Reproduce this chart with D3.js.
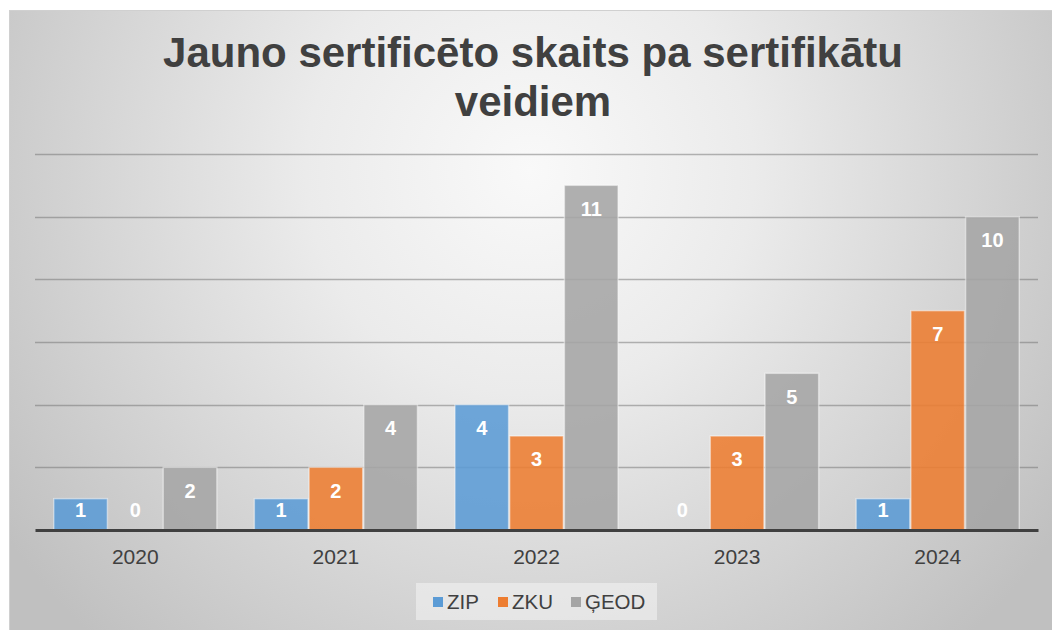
<!DOCTYPE html>
<html>
<head>
<meta charset="utf-8">
<script src="https://cdn.jsdelivr.net/npm/d3@7"></script>
<style>
  html, body { margin: 0; padding: 0; background: #fff; }
  svg { display: block; font-family: "Liberation Sans", Arial, sans-serif; }
</style>
</head>
<body>
<script>
// chart data
const years = ['2020', '2021', '2022', '2023', '2024'];
const seriesNames = ['ZIP', 'ZKU', 'ĢEOD'];
const zip = [1, 1, 4, 0, 1];
const zku = [0, 2, 3, 3, 7];
const geod = [2, 4, 11, 5, 10];
const yTicks = [0, 2, 4, 6, 8, 10, 12];
const colors = ['#5b9bd5', '#ed7d31', '#a5a5a5'];

const W = 1052, H = 630;
const margin = { top: 154, right: 14, bottom: 100, left: 35 };

const svg = d3.select('body').append('svg')
  .attr('width', W)
  .attr('height', H);

const defs = svg.append('defs');
const grad = defs.append('radialGradient')
  .attr('id', 'bg')
  .attr('gradientUnits', 'userSpaceOnUse')
  .attr('cx', 530).attr('cy', 170).attr('r', 640);
grad.append('stop').attr('offset', '0%').attr('stop-color', '#f9f9f9');
grad.append('stop').attr('offset', '35%').attr('stop-color', '#ebebeb');
grad.append('stop').attr('offset', '100%').attr('stop-color', '#c0c0c0');

// chart area background
svg.append('rect')
  .attr('x', 9.5).attr('y', 10.5)
  .attr('width', W - 9).attr('height', H - 10)
  .attr('fill', 'url(#bg)')
  .attr('stroke', '#d0d0d0');

// title
const title = svg.append('text')
  .attr('text-anchor', 'middle')
  .attr('font-size', 42)
  .attr('font-weight', 'bold')
  .attr('fill', '#404040');
title.append('tspan').attr('x', 533).attr('y', 67).text('Jauno sertificēto skaits pa sertifikātu');
title.append('tspan').attr('x', 533).attr('y', 116).text('veidiem');

const plotW = W - margin.left - margin.right;
const baseY = 530;

const x0 = d3.scaleBand()
  .domain(years)
  .range([margin.left, margin.left + plotW])
  .paddingInner(0.176)
  .paddingOuter(0.088);

const x1 = d3.scaleBand()
  .domain(seriesNames)
  .range([0, x0.bandwidth()])
  .padding(0.02);

const y = d3.scaleLinear()
  .domain([0, 12])
  .range([baseY, margin.top]);

// gridlines
svg.append('g')
  .selectAll('line')
  .data(yTicks.slice(1))
  .enter().append('line')
  .attr('x1', margin.left)
  .attr('x2', margin.left + plotW)
  .attr('y1', d => Math.round(y(d)) + 0.5)
  .attr('y2', d => Math.round(y(d)) + 0.5)
  .attr('stroke', '#707070')
  .attr('stroke-opacity', 0.5)
  .attr('stroke-width', 1.5);

// bars
const rows = years.map((yr, i) => ({
  year: yr,
  vals: [zip[i], zku[i], geod[i]]
}));

const groups = svg.append('g')
  .selectAll('g')
  .data(rows)
  .enter().append('g')
  .attr('transform', d => `translate(${x0(d.year)},0)`);

groups.selectAll('rect')
  .data(d => d.vals.map((v, j) => ({ name: seriesNames[j], v, j })))
  .enter().append('rect')
  .attr('x', d => x1(d.name))
  .attr('y', d => y(d.v))
  .attr('width', x1.bandwidth())
  .attr('height', d => baseY - y(d.v))
  .attr('fill', d => colors[d.j])
  .attr('fill-opacity', 0.88)
  .attr('stroke', '#ffffff')
  .attr('stroke-opacity', d => d.v > 0 ? 0.45 : 0)
  .attr('stroke-width', 1.5);

groups.selectAll('text')
  .data(d => d.vals.map((v, j) => ({ name: seriesNames[j], v, j })))
  .enter().append('text')
  .attr('x', d => x1(d.name) + x1.bandwidth() / 2)
  .attr('y', d => Math.min(y(d.v) + 23, baseY - 20))
  .attr('dy', '0.36em')
  .attr('text-anchor', 'middle')
  .attr('font-size', 20)
  .attr('font-weight', 'bold')
  .attr('fill', '#ffffff')
  .text(d => d.v);

// x axis
const xAxis = svg.append('g')
  .attr('transform', `translate(0,${baseY})`)
  .call(d3.axisBottom(x0).tickSize(0).tickPadding(19));
xAxis.select('.domain')
  .attr('stroke', '#404040')
  .attr('stroke-width', 3);
xAxis.selectAll('text')
  .attr('font-family', '"Liberation Sans", Arial, sans-serif')
  .attr('font-size', 21)
  .attr('fill', '#404040');

// legend
const legend = svg.append('g');
legend.append('rect')
  .attr('x', 416).attr('y', 583)
  .attr('width', 241).attr('height', 37)
  .attr('fill', '#f2f2f2')
  .attr('fill-opacity', 0.6);

const legendX = [433, 498, 571];
const items = legend.selectAll('g.item')
  .data(seriesNames)
  .enter().append('g')
  .attr('transform', (d, i) => `translate(${legendX[i]},602)`);
items.append('rect')
  .attr('x', 0).attr('y', -5)
  .attr('width', 10).attr('height', 10)
  .attr('fill', (d, i) => colors[i]);
items.append('text')
  .attr('x', 14)
  .attr('dy', '0.36em')
  .attr('font-size', 20.5)
  .attr('fill', '#404040')
  .text(d => d);
</script>
</body>
</html>
